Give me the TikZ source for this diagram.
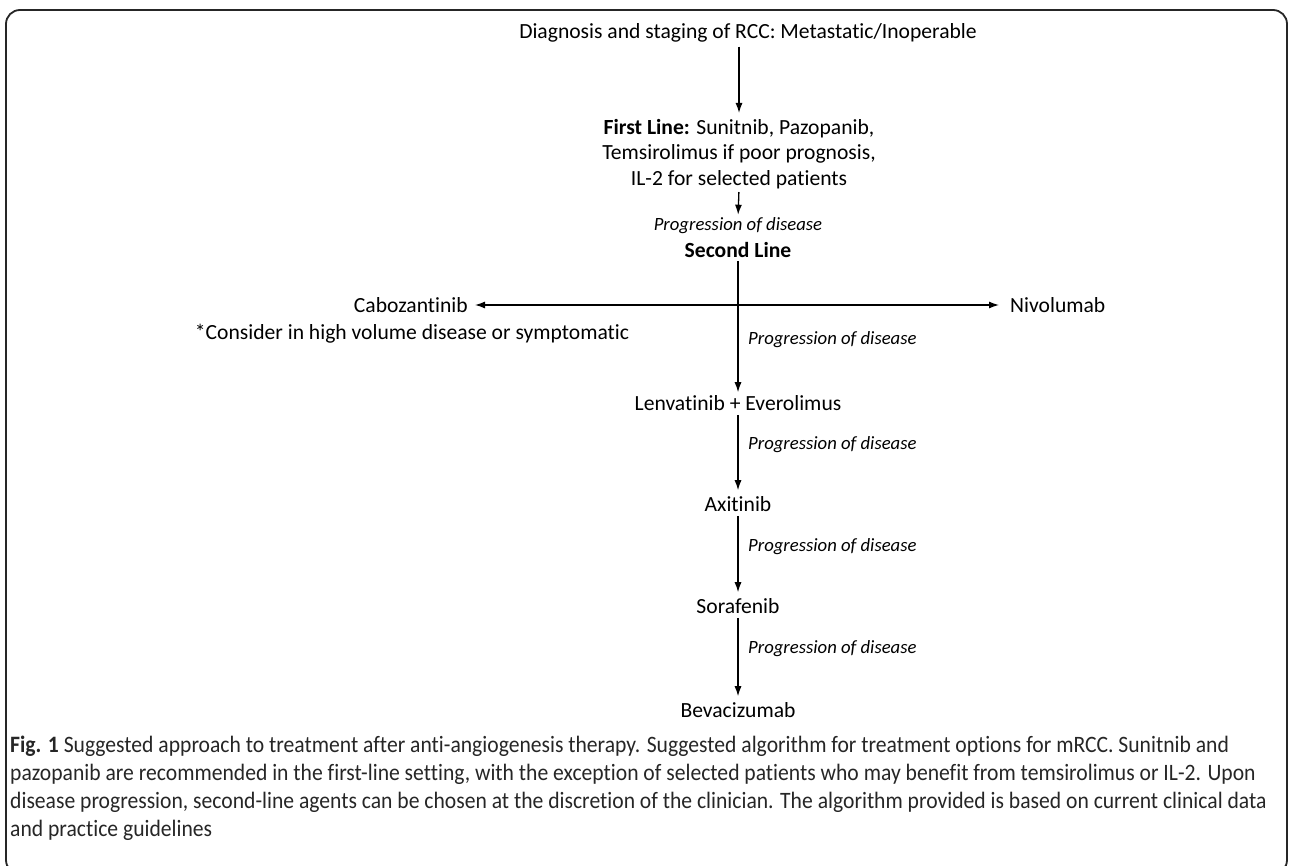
\documentclass[tikz,border=0pt]{standalone}
\usepackage{fontspec}
\setmainfont{Carlito}[Ligatures=NoCommon]
\newfontfamily\capfont{Carlito}[Ligatures=NoCommon, FakeStretch=0.92]
\usetikzlibrary{arrows.meta}
\begin{document}
\begin{tikzpicture}[x=1pt,y=-1pt,
  lbl/.style={inner sep=0pt, font=\fontsize{21.6}{25.5}\selectfont, text=black},
  prog/.style={inner sep=0pt, font=\fontsize{18.7}{21}\selectfont\itshape, anchor=west},
  arr/.style={-{Latex[length=10pt,width=7pt]}, line width=1.3pt},
]
\useasboundingbox (0,0) rectangle (1290,866);
\draw[line width=1.8pt, rounded corners=14pt, black!85] (6,10) rectangle (1287,874);
\node[lbl] (diag) at (748,33) {Diagnosis and staging of RCC: Metastatic/Inoperable};
\node[lbl, align=center] (first) at (739,154) {\textbf{First Line:} Sunitnib, Pazopanib,\\Temsirolimus if poor prognosis,\\IL-2 for selected patients};
\node[prog, anchor=center] (p1) at (738,226) {Progression of disease};
\node[lbl, font=\fontsize{21.6}{25}\selectfont\bfseries] (second) at (738,250) {Second Line};
\node[lbl, anchor=east] (cabo) at (468,305) {Cabozantinib};
\node[lbl] (consider) at (412,334) {*Consider in high volume disease or symptomatic};
\node[lbl, anchor=west] (nivo) at (1010,305) {Nivolumab};
\node[prog] (p2) at (748,340) {Progression of disease};
\node[lbl] (lenv) at (738,403) {Lenvatinib + Everolimus};
\node[prog] (p3) at (748,445) {Progression of disease};
\node[lbl] (axi) at (738,504) {Axitinib};
\node[prog] (p4) at (748,547) {Progression of disease};
\node[lbl] (sora) at (738,606) {Sorafenib};
\node[prog] (p5) at (748,649) {Progression of disease};
\node[lbl] (beva) at (738,710) {Bevacizumab};
\coordinate (hx) at (738,305);
\draw[arr, shorten <=4pt, shorten >=6pt] (diag.south -| first.north) -- (first.north);
\draw[arr, shorten <=3pt, shorten >=3pt] (first.south) -- (p1.north);
\draw[arr, shorten <=3pt, shorten >=3pt] (second.south) -- (lenv.north);
\draw[arr, shorten >=7pt] (hx) -- (cabo.east);
\draw[arr, shorten >=11pt] (hx) -- (nivo.west);
\draw[arr, shorten <=4pt, shorten >=6pt] (lenv.south) -- (axi.north);
\draw[arr, shorten <=4pt, shorten >=6pt] (axi.south) -- (sora.north);
\draw[arr, shorten <=4pt, shorten >=6pt] (sora.south) -- (beva.north);
\node[inner sep=0pt, anchor=north west, align=left, text=black!85, font=\capfont\fontsize{23.5}{27.8}\selectfont] (cap) at (10,736)
{\textbf{Fig. 1} Suggested approach to treatment after anti-angiogenesis therapy. Suggested algorithm for treatment options for mRCC. Sunitnib and\\
pazopanib are recommended in the first-line setting, with the exception of selected patients who may benefit from temsirolimus or IL-2. Upon\\
disease progression, second-line agents can be chosen at the discretion of the clinician. The algorithm provided is based on current clinical data\\
and practice guidelines};
\end{tikzpicture}
\end{document}
